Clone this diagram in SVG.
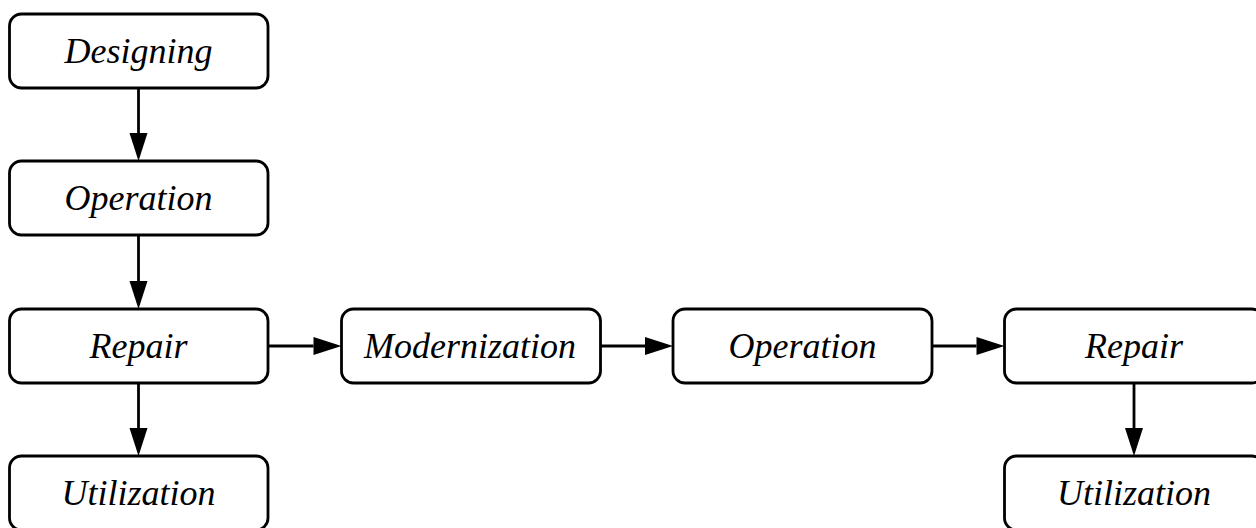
<svg xmlns="http://www.w3.org/2000/svg" width="1256" height="528" viewBox="0 0 1256 528">
  <style>
    .box { fill: #ffffff; stroke: #000000; stroke-width: 2.8; }
    .lbl { font-family: "Liberation Serif", "Times New Roman", serif; font-style: italic; font-size: 36px; fill: #000000; text-anchor: middle; }
    .conn { stroke: #000000; stroke-width: 2.8; fill: none; marker-end: url(#arrow); }
  </style>
  <defs>
    <marker id="arrow" markerUnits="userSpaceOnUse" markerWidth="29" markerHeight="19" refX="0" refY="9" orient="auto" overflow="visible">
      <path d="M0,0 L28,9 L0,18 Z" fill="#000000"/>
    </marker>
  </defs>
  <rect width="1256" height="528" fill="#ffffff"/>

  <g id="connectors">
    <line class="conn" x1="138.5" y1="88" x2="138.5" y2="133"/>
    <line class="conn" x1="138.5" y1="235" x2="138.5" y2="281"/>
    <line class="conn" x1="138.5" y1="383" x2="138.5" y2="428"/>
    <line class="conn" x1="268" y1="346" x2="313.5" y2="346"/>
    <line class="conn" x1="600.5" y1="346" x2="645" y2="346"/>
    <line class="conn" x1="932" y1="346" x2="976.5" y2="346"/>
    <line class="conn" x1="1134" y1="383" x2="1134" y2="428"/>
  </g>

  <g id="designing">
    <rect class="box" x="9.5" y="14" width="258.5" height="74" rx="12"/>
    <text class="lbl" x="138.5" y="63">Designing</text>
  </g>
  <g id="operation1">
    <rect class="box" x="9.5" y="161" width="258.5" height="74" rx="12"/>
    <text class="lbl" x="138.5" y="210">Operation</text>
  </g>
  <g id="repair1">
    <rect class="box" x="9.5" y="309" width="258.5" height="74" rx="12"/>
    <text class="lbl" x="138.5" y="358">Repair</text>
  </g>
  <g id="utilization1">
    <rect class="box" x="9.5" y="456" width="258.5" height="74" rx="12"/>
    <text class="lbl" x="138.5" y="505">Utilization</text>
  </g>
  <g id="modernization">
    <rect class="box" x="341.5" y="309" width="259" height="74" rx="12"/>
    <text class="lbl" x="470" y="358">Modernization</text>
  </g>
  <g id="operation2">
    <rect class="box" x="673" y="309" width="259" height="74" rx="12"/>
    <text class="lbl" x="802.5" y="358">Operation</text>
  </g>
  <g id="repair2">
    <rect class="box" x="1004.5" y="309" width="259" height="74" rx="12"/>
    <text class="lbl" x="1134" y="358">Repair</text>
  </g>
  <g id="utilization2">
    <rect class="box" x="1004.5" y="456" width="259" height="74" rx="12"/>
    <text class="lbl" x="1134" y="505">Utilization</text>
  </g>
</svg>
